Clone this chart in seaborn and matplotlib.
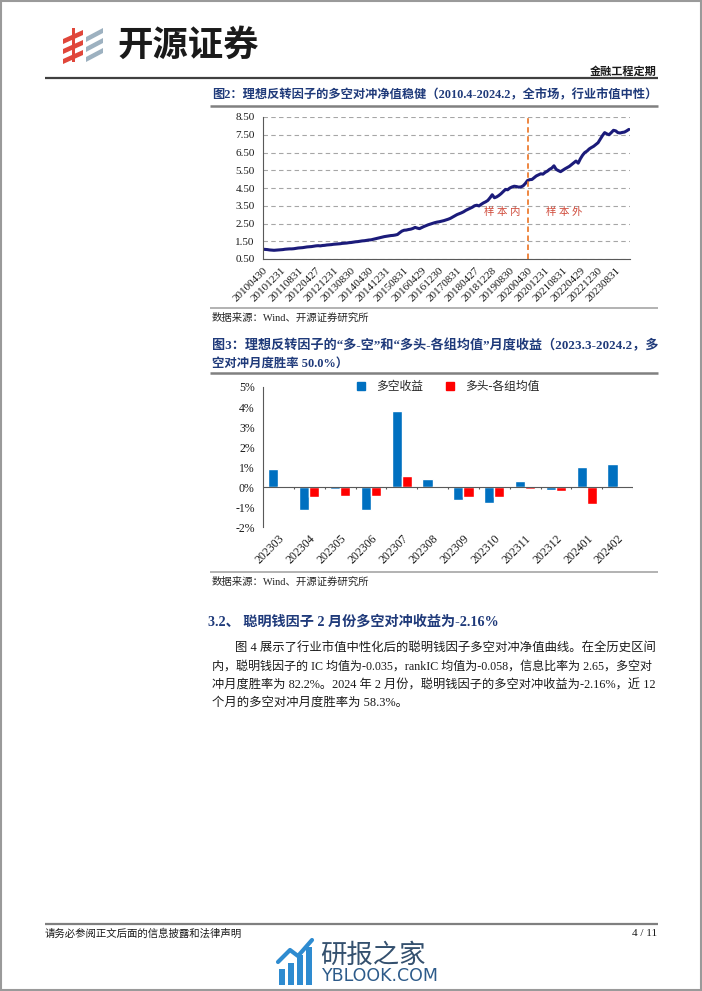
import numpy as np
import pandas as pd
import matplotlib
matplotlib.use('Agg')
import matplotlib.pyplot as plt
import seaborn as sns
from matplotlib.lines import Line2D
from matplotlib.patches import Polygon, Rectangle
from matplotlib.ticker import FuncFormatter

# ---------------- data ----------------
# Chart 1: monthly long-short net value, 2010-04 .. 2024-02
nav_2010 = [1.05, 1.04, 1.03, 1.01, 1.00, 0.99, 1.00, 1.01, 1.02]
nav_2011 = [1.03, 1.05, 1.06, 1.07, 1.07, 1.08, 1.10, 1.12, 1.13, 1.14, 1.16, 1.18]
nav_2012 = [1.19, 1.20, 1.22, 1.24, 1.25, 1.24, 1.26, 1.27, 1.29, 1.30, 1.31, 1.33]
nav_2013 = [1.34, 1.35, 1.36, 1.38, 1.39, 1.40, 1.42, 1.43, 1.45, 1.47, 1.48, 1.50]
nav_2014 = [1.52, 1.53, 1.55, 1.57, 1.58, 1.61, 1.64, 1.67, 1.70, 1.73, 1.76, 1.78]
nav_2015 = [1.80, 1.82, 1.83, 1.85, 1.88, 1.98, 2.07, 2.12, 2.13, 2.16, 2.18, 2.22]
nav_2016 = [2.28, 2.24, 2.21, 2.27, 2.33, 2.38, 2.43, 2.47, 2.51, 2.55, 2.58, 2.60]
nav_2017 = [2.63, 2.66, 2.70, 2.74, 2.79, 2.86, 2.93, 3.00, 3.05, 3.10, 3.16, 3.24]
nav_2018 = [3.30, 3.36, 3.42, 3.50, 3.53, 3.49, 3.58, 3.66, 3.72, 3.80, 3.95, 4.12]
nav_2019 = [3.95, 4.00, 4.08, 4.18, 4.30, 4.42, 4.40, 4.50, 4.56, 4.60, 4.58, 4.55]
nav_2020 = [4.56, 4.62, 4.75, 4.92, 4.97, 4.98, 5.08, 5.18, 5.24, 5.30, 5.28, 5.38]
nav_2021 = [5.45, 5.55, 5.62, 5.75, 5.55, 5.48, 5.42, 5.50, 5.58, 5.65, 5.72, 5.82]
nav_2022 = [5.92, 6.02, 5.90, 6.15, 6.35, 6.50, 6.58, 6.70, 6.78, 6.85, 6.95, 7.05]
nav_2023 = [7.25, 7.45, 7.62, 7.55, 7.50, 7.62, 7.75, 7.72, 7.62, 7.60, 7.63, 7.65]
nav_2024 = [7.72, 7.80]
nav = (nav_2010 + nav_2011 + nav_2012 + nav_2013 + nav_2014 + nav_2015 + nav_2016
       + nav_2017 + nav_2018 + nav_2019 + nav_2020 + nav_2021 + nav_2022 + nav_2023 + nav_2024)

tick_labels1 = ['20100430', '20101231', '20110831', '20120427', '20121231', '20130830',
                '20140430', '20141231', '20150831', '20160429', '20161230', '20170831',
                '20180427', '20181228', '20190830', '20200430', '20201231', '20210831',
                '20220429', '20221230', '20230831']
tick_step_months = 8
split_label = '20200430'
y1_ticks = [0.5, 1.5, 2.5, 3.5, 4.5, 5.5, 6.5, 7.5, 8.5]

# Chart 2: monthly returns (%), 2023-03 .. 2024-02
months2 = ['202303', '202304', '202305', '202306', '202307', '202308',
           '202309', '202310', '202311', '202312', '202401', '202402']
long_short = [0.90, -1.17, -0.12, -1.17, 3.80, 0.38, -0.67, -0.80, 0.32, -0.17, 1.02, 1.15]
long_minus_avg = [0.05, -0.52, -0.43, -0.43, 0.53, 0.05, -0.52, -0.52, -0.08, -0.20, -0.83, 0.03]
series2 = ['多空收益', '多头-各组均值']
y2_ticks = [-2, -1, 0, 1, 2, 3, 4, 5]

# ---------------- style ----------------
sns.set_theme(style='white')
FAM = ['Liberation Serif', 'Noto Sans CJK SC', 'DejaVu Sans']
plt.rcParams['font.family'] = FAM
plt.rcParams['axes.unicode_minus'] = False

W, H = 702, 991
fig = plt.figure(figsize=(W / 100, H / 100), dpi=100)
fig.patch.set_facecolor('white')
renderer = fig.canvas.get_renderer()


def fx(x):
    return x / W


def fy(y):
    return 1 - y / H


def hline(x0, x1, y, color, lw):
    fig.add_artist(Line2D([fx(x0), fx(x1)], [fy(y), fy(y)], transform=fig.transFigure,
                          color=color, lw=lw, solid_capstyle='butt'))


def ftext(x, y, s, **kw):
    kw.setdefault('va', 'center')
    kw.setdefault('family', FAM)
    return fig.text(fx(x), fy(y), s, **kw)


def fit_text(x0, x1, y, s, base, **kw):
    """Place a justified line: scale font slightly so it spans x0..x1."""
    t = ftext(x0, y, s, fontsize=base, **kw)
    w = t.get_window_extent(renderer).width
    k = min(max((x1 - x0) / w, 0.88), 1.12)
    t.set_fontsize(base * k)
    return t


NAVY = '#1F3A7A'
AXC = '#595959'

# ---------------- header ----------------
red_c, grey_c = '#E0463A', '#9DB1C0'
for k in range(3):
    yc = 31 + k * 10
    fig.add_artist(Polygon([(fx(63), fy(yc + 8)), (fx(83), fy(yc - 1)), (fx(83), fy(yc + 4)),
                            (fx(63), fy(yc + 13))], closed=True, transform=fig.transFigure,
                           color=red_c, lw=0))
    fig.add_artist(Polygon([(fx(86), fy(yc + 6)), (fx(103), fy(yc - 3)), (fx(103), fy(yc + 2)),
                            (fx(86), fy(yc + 11))], closed=True, transform=fig.transFigure,
                           color=grey_c, lw=0))
fig.add_artist(Rectangle((fx(72), fy(62)), 3 / W, 34 / H, transform=fig.transFigure,
                         color=red_c, lw=0))
ftext(117, 45, '开源证券', fontsize=25.5, fontweight='bold', color='#1A1A1A',
      family=['Noto Sans CJK SC'])
ftext(657, 71, '金融工程定期', fontsize=8, fontweight='bold', color='#1A1A1A', ha='right')
hline(45, 658, 78, '#404040', 1.6)

# ---------------- figure 2 title ----------------
fit_text(212, 657, 95, '图2：理想反转因子的多空对冲净值稳健（2010.4-2024.2，全市场，行业市值中性）',
         8.9, fontweight='bold', color=NAVY)
hline(210, 658, 106, '#808080', 1.8)

# ---------------- chart 1 ----------------
ax1 = fig.add_axes([fx(263), fy(259), (630 - 263) / W, (259 - 117) / H])
df1 = pd.DataFrame({'idx': np.arange(len(nav)), 'nav': nav})
sns.lineplot(data=df1, x='idx', y='nav', ax=ax1, color='#1B1B7A', lw=2.2)
ax1.set_xlim(0, len(nav) - 0.5)
ax1.set_ylim(y1_ticks[0], y1_ticks[-1])
ax1.set_yticks(y1_ticks)
ax1.yaxis.set_major_formatter(FuncFormatter(lambda v, p: f'{v:.2f}'))
ax1.set_xticks(np.arange(len(tick_labels1)) * tick_step_months)
ax1.set_xticklabels(tick_labels1, rotation=45, ha='right', rotation_mode='anchor')
ax1.set_xlabel('')
ax1.set_ylabel('')
ax1.grid(axis='y', ls=(0, (4, 3)), color='#A6A6A6', lw=0.8)
ax1.grid(axis='x', visible=False)
ax1.set_axisbelow(True)
for s in ['top', 'right']:
    ax1.spines[s].set_visible(False)
for s in ['left', 'bottom']:
    ax1.spines[s].set_color(AXC)
    ax1.spines[s].set_linewidth(0.8)
ax1.tick_params(axis='both', direction='out', length=3, width=0.8, color=AXC,
                labelsize=8, labelcolor='#1A1A1A', pad=2)
ax1.tick_params(axis='y', pad=3)
split_idx = tick_labels1.index(split_label) * tick_step_months
ax1.axvline(split_idx, color='#ED7D31', ls=(0, (3, 2)), lw=1.3)
ax1.text(108.5, 3.15, '样 本 内', color='#D04A3A', fontsize=7.5, ha='center', va='center', family=FAM)
ax1.text(136.5, 3.15, '样 本 外', color='#D04A3A', fontsize=7.5, ha='center', va='center', family=FAM)

hline(210, 658, 308, '#A6A6A6', 1.2)
ftext(212, 318, '数据来源：Wind、开源证券研究所', fontsize=7.5, color='#262626')

# ---------------- figure 3 title ----------------
fit_text(212, 657, 345, '图3：理想反转因子的“多-空”和“多头-各组均值”月度收益（2023.3-2024.2，多',
         8.9, fontweight='bold', color=NAVY)
ftext(212, 364, '空对冲月度胜率 50.0%）', fontsize=8.9, fontweight='bold', color=NAVY)
hline(210, 658, 373, '#808080', 1.8)

# ---------------- chart 2 ----------------
ax2 = fig.add_axes([fx(263), fy(527), (633 - 263) / W, (527 - 387) / H])
df2 = pd.DataFrame({'month': months2 * 2,
                    'value': long_short + long_minus_avg,
                    'series': [series2[0]] * len(months2) + [series2[1]] * len(months2)})
colors2 = ['#0070C0', '#FF0000']
sns.barplot(data=df2, x='month', y='value', hue='series', hue_order=series2,
            palette=colors2, width=0.66, saturation=1, errorbar=None, ax=ax2, legend=False)
ax2.set_xlim(-0.5, len(months2) - 0.5)
ax2.set_ylim(y2_ticks[0], y2_ticks[-1])
ax2.set_yticks(y2_ticks)
ax2.yaxis.set_major_formatter(FuncFormatter(lambda v, p: f'{int(round(v))}%'))
ax2.set_xticks(range(len(months2)))
ax2.set_xticklabels(months2, rotation=45, ha='right', rotation_mode='anchor')
ax2.set_xlabel('')
ax2.set_ylabel('')
for s in ['top', 'right', 'bottom']:
    ax2.spines[s].set_visible(False)
ax2.spines['left'].set_color(AXC)
ax2.spines['left'].set_linewidth(0.8)
ax2.tick_params(axis='y', direction='out', length=3, width=0.8, color=AXC,
                labelsize=8.5, labelcolor='#1A1A1A', pad=3)
ax2.tick_params(axis='x', length=0, labelsize=8.5, labelcolor='#1A1A1A', pad=4)
ax2.axhline(0, color=AXC, lw=0.8)
bounds = np.arange(len(months2) + 1) - 0.5
ax2.vlines(bounds[1:], -0.12, 0, color=AXC, lw=0.8)
handles = [Line2D([], [], marker='s', ls='', color=c, markersize=5.5) for c in colors2]
ax2.legend(handles, series2, loc='center', bbox_to_anchor=(0.49, 1.0), ncol=2,
           frameon=False, handletextpad=0.3, columnspacing=1.2,
           prop={'family': FAM, 'size': 8.5})

hline(210, 658, 572, '#A6A6A6', 1.2)
ftext(212, 582, '数据来源：Wind、开源证券研究所', fontsize=7.5, color='#262626')

# ---------------- section text ----------------
ftext(208, 622, '3.2、 聪明钱因子 2 月份多空对冲收益为-2.16%', fontsize=10.2,
      fontweight='bold', color=NAVY)
para_lines = [
    '图 4 展示了行业市值中性化后的聪明钱因子多空对冲净值曲线。在全历史区间',
    '内，聪明钱因子的 IC 均值为-0.035，rankIC 均值为-0.058，信息比率为 2.65，多空对',
    '冲月度胜率为 82.2%。2024 年 2 月份，聪明钱因子的多空对冲收益为-2.16%，近 12',
    '个月的多空对冲月度胜率为 58.3%。',
]
para_x = [235, 212, 212, 212]
para_y = [648, 667, 685, 703]
for i, s in enumerate(para_lines):
    if i < len(para_lines) - 1:
        fit_text(para_x[i], 655, para_y[i], s, 8.9, color='#1A1A1A')
    else:
        ftext(para_x[i], para_y[i], s, fontsize=8.9, color='#1A1A1A')

# ---------------- footer ----------------
hline(45, 658, 924, '#7F7F7F', 1.6)
ftext(45, 934, '请务必参阅正文后面的信息披露和法律声明', fontsize=7.5, color='#1A1A1A')
ftext(657, 934, '4 / 11', fontsize=8, color='#1A1A1A', ha='right')

wm_blue = '#2E8BD0'
for k, (x0, h) in enumerate([(279, 16), (288, 22), (297, 30), (306, 38)]):
    fig.add_artist(Rectangle((fx(x0), fy(985)), 6 / W, h / H, transform=fig.transFigure,
                             color=wm_blue, lw=0))
fig.add_artist(Line2D([fx(278), fx(290), fx(298), fx(312)], [fy(962), fy(950), fy(956), fy(940)],
                      transform=fig.transFigure, color=wm_blue, lw=3))
ftext(320, 955, '研报之家', fontsize=19, color='#34506E', family=['Noto Sans CJK SC'])
ftext(322, 976, 'YBLOOK.COM', fontsize=12.5, color='#2D5B8A', family=['DejaVu Sans'])

fig.add_artist(Rectangle((0.001, 0.001), 0.998, 0.998, transform=fig.transFigure,
                         fill=False, edgecolor='#9A9A9A', lw=1.5))

fig.savefig('out.png', dpi=100)
